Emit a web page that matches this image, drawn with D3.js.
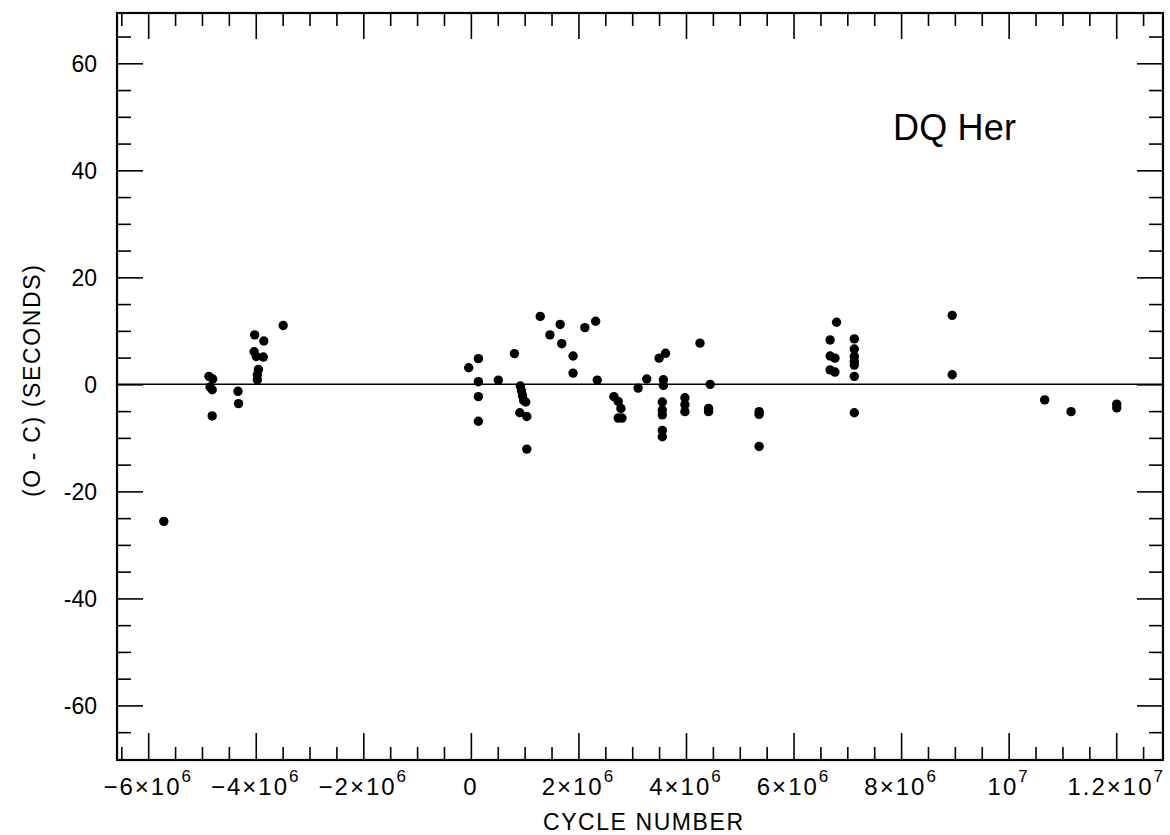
<!DOCTYPE html>
<html>
<head>
<meta charset="utf-8">
<script src="https://cdn.jsdelivr.net/npm/d3@7"></script>
<style>
  body { margin: 0; background: #fff; }
  svg { display: block; font-family: "Liberation Sans", Arial, sans-serif; }
  .tick line { stroke: #000; stroke-width: 1.6; }
</style>
</head>
<body>
<svg width="1170" height="835"></svg>
<script>
// cycle number (millions) and O-C residuals (seconds)
const cycleMillions = [
  -5.71, -4.87, -4.80, -4.85, -4.81, -4.81, -4.33, -4.32,
  -4.02, -4.03, -3.99, -3.95, -3.97, -3.97, -3.85, -3.86, -3.49,
  -0.04, 0.14, 0.14, 0.14, 0.14, 0.51, 0.81,
  0.92, 0.94, 0.96, 0.98, 1.02, 0.91, 1.04, 1.04,
  1.29, 1.47, 1.66, 1.69, 1.90, 1.90, 2.12, 2.32, 2.35,
  2.66, 2.74, 2.79, 2.74, 2.81, 3.11, 3.27, 3.50, 3.62,
  3.58, 3.58, 3.56, 3.56, 3.56, 3.56, 3.56,
  3.98, 3.98, 3.98, 4.26, 4.42, 4.42, 4.45,
  5.36, 5.36, 5.36,
  6.80, 6.68, 6.68, 6.77, 6.68, 6.77,
  7.13, 7.13, 7.13, 7.13, 7.13, 7.13, 7.13,
  8.95, 8.95, 10.67, 11.16, 12.01, 12.01
]
const ocSeconds = [
  -25.6, 1.5, 1.0, -0.5, -1.0, -5.9, -1.3, -3.6,
  9.25, 6.1, 5.2, 2.8, 1.8, 0.85, 8.1, 5.1, 11.0,
  3.1, 4.8, 0.5, -2.3, -6.9, 0.8, 5.75,
  -0.3, -1.2, -2.1, -3.0, -3.3, -5.3, -6.0, -12.1,
  12.7, 9.25, 11.2, 7.6, 5.3, 2.1, 10.6, 11.8, 0.8,
  -2.3, -3.2, -4.5, -6.3, -6.3, -0.7, 1.0, 4.9, 5.8,
  0.85, -0.2, -3.3, -4.8, -5.7, -8.6, -9.8,
  -2.5, -3.8, -5.1, 7.7, -4.5, -5.1, 0.0,
  -5.1, -5.6, -11.6,
  11.6, 8.3, 5.3, 4.9, 2.7, 2.3,
  8.5, 6.6, 5.2, 4.3, 3.6, 1.5, -5.3,
  12.9, 1.8, -2.9, -5.1, -3.7, -4.4
]

const xMajorTicks = [-6, -4, -2, 0, 2, 4, 6, 8, 10, 12]
const xTickBase = ['−6×10', '−4×10', '−2×10', '0', '2×10', '4×10', '6×10', '8×10', '10', '1.2×10']
const xTickExp = ['6', '6', '6', '', '6', '6', '6', '6', '7', '7']
const yMajorTicks = [-60, -40, -20, 0, 20, 40, 60]

const svg = d3.select('svg')
const frame = { left: 117, right: 1163, top: 13, bottom: 760 }

const x = d3.scaleLinear().domain([-6.58, 12.87]).range([frame.left, frame.right])
const y = d3.scaleLinear().domain([-70.2, 69.4]).range([frame.bottom, frame.top])

const xMinor = d3.range(-6.5, 12.6, 0.5).filter(v => Math.abs(v % 2) > 1e-6)
const yMinor = d3.range(-65, 66, 5).filter(v => v % 20 !== 0)

const addAxis = (axis, tx, ty) => {
  const g = svg.append('g').attr('transform', `translate(${tx},${ty})`).call(axis)
  g.select('.domain').remove()
  return g
}

// x ticks, bottom and top, pointing inward
addAxis(d3.axisBottom(x).tickValues(xMajorTicks).tickSize(-27).tickFormat(''), 0, frame.bottom)
addAxis(d3.axisBottom(x).tickValues(xMinor).tickSize(-13).tickFormat(''), 0, frame.bottom)
addAxis(d3.axisTop(x).tickValues(xMajorTicks).tickSize(-26).tickFormat(''), 0, frame.top)
addAxis(d3.axisTop(x).tickValues(xMinor).tickSize(-13).tickFormat(''), 0, frame.top)

// y ticks, left and right
addAxis(d3.axisLeft(y).tickValues(yMajorTicks).tickSize(-26).tickFormat(''), frame.left, 0)
addAxis(d3.axisLeft(y).tickValues(yMinor).tickSize(-14).tickFormat(''), frame.left, 0)
addAxis(d3.axisRight(y).tickValues(yMajorTicks).tickSize(-26).tickFormat(''), frame.right, 0)
addAxis(d3.axisRight(y).tickValues(yMinor).tickSize(-14).tickFormat(''), frame.right, 0)

// frame
svg.append('rect')
  .attr('x', frame.left)
  .attr('y', frame.top)
  .attr('width', frame.right - frame.left)
  .attr('height', frame.bottom - frame.top)
  .attr('fill', 'none')
  .attr('stroke', '#000')
  .attr('stroke-width', 2.2)

// zero line
svg.append('line')
  .attr('x1', frame.left)
  .attr('x2', frame.right)
  .attr('y1', y(0))
  .attr('y2', y(0))
  .attr('stroke', '#000')
  .attr('stroke-width', 1.5)

// x tick labels with exponent
const xLabels = svg.selectAll('text.xlab')
  .data(xMajorTicks)
  .enter().append('text')
  .attr('class', 'xlab')
  .attr('x', d => x(d))
  .attr('y', 795)
  .attr('text-anchor', 'middle')
  .attr('font-size', 24)
  .attr('letter-spacing', 2)

xLabels.append('tspan').text((d, i) => xTickBase[i])
xLabels.append('tspan')
  .attr('dy', -13)
  .attr('font-size', 17)
  .text((d, i) => xTickExp[i])

// y tick labels
svg.selectAll('text.ylab')
  .data(yMajorTicks)
  .enter().append('text')
  .attr('class', 'ylab')
  .attr('x', 97)
  .attr('y', d => y(d))
  .attr('dy', '0.36em')
  .attr('text-anchor', 'end')
  .attr('font-size', 23)
  .text(d => d)

// points
svg.selectAll('circle.pt')
  .data(cycleMillions)
  .enter().append('circle')
  .attr('class', 'pt')
  .attr('cx', d => x(d))
  .attr('cy', (d, i) => y(ocSeconds[i]))
  .attr('r', 4.7)
  .attr('fill', '#000')

// titles
svg.append('text')
  .attr('x', 643)
  .attr('y', 830)
  .attr('text-anchor', 'middle')
  .attr('font-size', 23)
  .attr('textLength', 200)
  .attr('lengthAdjust', 'spacing')
  .text('CYCLE NUMBER')

svg.append('text')
  .attr('transform', 'translate(40,381) rotate(-90)')
  .attr('text-anchor', 'middle')
  .attr('font-size', 23)
  .attr('textLength', 232)
  .attr('lengthAdjust', 'spacing')
  .text('(O - C) (SECONDS)')

svg.append('text')
  .attr('x', 893)
  .attr('y', 140)
  .attr('font-size', 36)
  .attr('textLength', 123)
  .attr('lengthAdjust', 'spacing')
  .text('DQ Her')
</script>
</body>
</html>
